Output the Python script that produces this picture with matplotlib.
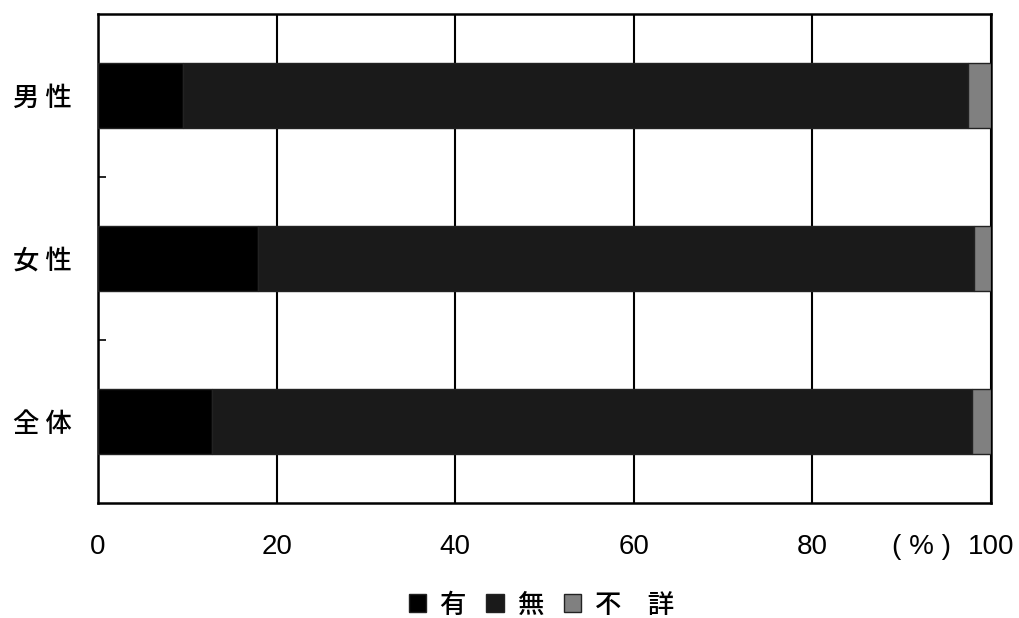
import matplotlib.pyplot as plt

plt.rcParams['font.family'] = ['Liberation Sans', 'Noto Sans CJK JP']

# 回答の区分
categories = ['男 性', '女 性', '全 体']
ari = [9.5, 17.9, 12.8]      # 有
nashi = [87.9, 80.2, 85.1]   # 無
fusho = [2.6, 1.9, 2.1]      # 不詳
labels = ['有', '無', '不　詳']
colors = ['#000000', '#1a1a1a', '#808080']
xticks = [0, 20, 40, 60, 80, 100]

cjk = ['Noto Sans CJK JP', 'DejaVu Sans']

fig = plt.figure(figsize=(10.19, 6.18), dpi=100)
ax = fig.add_axes([0.0962, 0.1861, 0.8763, 0.7912])

ypos = [2, 1, 0]
left = [0, 0, 0]
for vals, lab, col in zip([ari, nashi, fusho], labels, colors):
    ax.barh(ypos, vals, left=left, height=0.4, color=col, edgecolor='#222222',
            linewidth=1, label=lab, zorder=3)
    left = [l + v for l, v in zip(left, vals)]

ax.set_xlim(0, 100)
ax.set_ylim(-0.5, 2.5)
ax.set_xticks(xticks)
ax.set_xticklabels([str(t) for t in xticks], fontsize=20)
ax.set_yticks(ypos)
ax.set_yticklabels(categories, fontsize=19, family=cjk, fontweight='medium')
ax.set_yticks([0.5, 1.5], minor=True)
ax.tick_params(axis='x', length=0, pad=22)
ax.tick_params(axis='y', which='major', length=0, pad=19)
ax.tick_params(axis='y', which='minor', direction='in', length=6, width=1.2)
ax.grid(axis='x', color='black', linewidth=1.5, zorder=1)
for s in ax.spines.values():
    s.set_linewidth(1.8)

ax.text(0.922, -0.09, '( % )', transform=ax.transAxes, fontsize=20,
        ha='center', va='center')

fig.legend(loc='center', bbox_to_anchor=(0.531, 0.021), ncol=3, frameon=False,
           prop={'family': cjk, 'size': 19, 'weight': 'medium'},
           handlelength=0.65, handleheight=0.65, handletextpad=0.5,
           columnspacing=0.8)

plt.savefig('out.png', dpi=100)
